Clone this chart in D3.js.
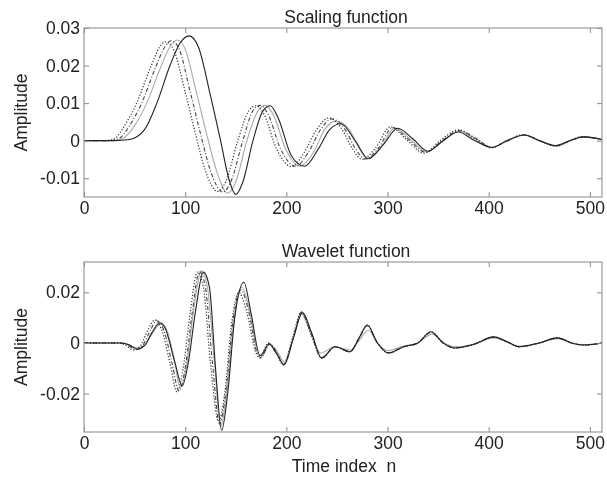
<!DOCTYPE html>
<html>
<head>
<meta charset="utf-8">
<script src="https://cdn.jsdelivr.net/npm/d3@7"></script>
<style>
  html, body { margin: 0; padding: 0; background: #fff; }
  svg { display: block; }
  text { font-family: "Liberation Sans", Arial, Helvetica, sans-serif; fill: #222; white-space: pre; }
</style>
</head>
<body>
<svg id="chart" width="607" height="481"></svg>
<script>
// ---------------- DATA ----------------
const xTicks = [0, 100, 200, 300, 400, 500];
const xTickLabels = ["0", "100", "200", "300", "400", "500"];
const scalingYTicks = [-0.01, 0, 0.01, 0.02, 0.03];
const scalingYTickLabels = ["-0.01", "0", "0.01", "0.02", "0.03"];
const waveletYTicks = [-0.02, 0, 0.02];
const waveletYTickLabels = ["-0.02", "0", "0.02"];

// Scaling function, four overlaid curves: [n, amplitude]
const scalingSolid = [[0,0],[30,0],[45,0.0003],[60,0.003],[72,0.01],[85,0.02],[95,0.026],[104,0.0279],[113,0.025],[125,0.012],[135,0.0],[143,-0.01],[150,-0.0143],[157,-0.011],[167,0.0],[177,0.008],[184,0.0093],[192,0.006],[205,-0.004],[218,-0.0068],[232,-0.002],[243,0.003],[254,0.0045],[268,0.0],[281,-0.0048],[296,-0.001],[310,0.0033],[325,0.0005],[340,-0.0028],[355,0.0],[370,0.0023],[385,0.0002],[403,-0.0018],[418,0.0],[435,0.0015],[450,0.0],[466,-0.0013],[480,0.0],[494,0.001],[512,0.0003]];
const scalingDotted = [[0,0],[20,0],[30,0.0005],[40,0.004],[52,0.01],[65,0.019],[75,0.025],[80,0.0263],[87,0.025],[100,0.013],[110,0.002],[120,-0.008],[132,-0.0135],[140,-0.011],[152,0.0],[163,0.008],[170,0.0093],[178,0.007],[190,-0.002],[205,-0.0069],[218,-0.003],[230,0.003],[242,0.0061],[255,0.003],[265,-0.002],[275,-0.005],[288,-0.002],[303,0.0037],[318,0.0005],[336,-0.0033],[352,0.0],[370,0.0029],[386,0.0005],[402,-0.0019],[418,0.0],[434,0.0016],[450,0.0],[466,-0.0015],[480,0.0],[493,0.0011],[512,0.0003]];
const scalingDashDot = [[0,0],[24,0],[34,0.0005],[45,0.004],[57,0.01],[70,0.019],[80,0.025],[86,0.0266],[93,0.025],[105,0.013],[115,0.002],[125,-0.008],[137,-0.0137],[145,-0.011],[157,0.0],[167,0.008],[174,0.0094],[182,0.007],[194,-0.002],[209,-0.0068],[222,-0.003],[234,0.003],[245,0.0058],[258,0.003],[268,-0.002],[278,-0.0049],[291,-0.002],[305,0.0035],[320,0.0005],[338,-0.0031],[354,0.0],[371,0.0027],[388,0.0005],[403,-0.0018],[419,0.0],[435,0.0015],[451,0.0],[467,-0.0014],[481,0.0],[494,0.001],[512,0.0003]];
const scalingGray = [[0,0],[28,0],[38,0.0005],[50,0.004],[62,0.01],[75,0.019],[85,0.025],[92,0.0268],[99,0.025],[111,0.013],[121,0.002],[131,-0.008],[142,-0.014],[150,-0.011],[161,0.0],[172,0.008],[179,0.0094],[187,0.007],[199,-0.002],[213,-0.0068],[227,-0.003],[238,0.003],[249,0.0052],[262,0.003],[272,-0.002],[280,-0.0048],[293,-0.002],[307,0.0034],[322,0.0005],[339,-0.003],[355,0.0],[371,0.0025],[388,0.0004],[403,-0.0018],[419,0.0],[435,0.0015],[451,0.0],[467,-0.0014],[481,0.0],[494,0.001],[512,0.0003]];

// Wavelet function, four overlaid curves: [n, amplitude]
const waveletSolid = [[0,0],[38,0],[45,-0.0008],[53,-0.0025],[60,-0.001],[67,0.004],[75,0.008],[80,0.006],[90,-0.008],[97,-0.017],[103,-0.008],[110,0.012],[118,0.028],[124,0.022],[130,-0.01],[136,-0.0345],[142,-0.02],[149,0.01],[158,0.024],[165,0.012],[174,-0.005],[183,-0.0005],[190,-0.004],[198,-0.0085],[207,0.002],[216,0.012],[225,0.004],[235,-0.006],[248,-0.0015],[263,-0.0035],[272,0.002],[280,0.0071],[290,0.0],[301,-0.004],[316,-0.0015],[330,0.0],[343,0.0044],[355,0.0],[366,-0.002],[385,-0.0006],[405,0.0024],[418,0.0005],[430,-0.0015],[450,0.0],[468,0.002],[482,0.0],[494,-0.0008],[512,0]];
const waveletDotted = [[0,0],[33,0],[41,-0.0008],[49,-0.0028],[56,-0.001],[63,0.005],[70,0.0091],[77,0.005],[85,-0.008],[92,-0.0194],[98,-0.01],[105,0.012],[112,0.028],[118,0.022],[125,-0.008],[133,-0.031],[139,-0.02],[146,0.008],[153,0.02],[161,0.012],[170,-0.004],[174,-0.006],[182,0.0],[190,-0.004],[197,-0.0087],[206,0.002],[215,0.0123],[224,0.004],[235,-0.006],[248,-0.0015],[263,-0.0035],[272,0.002],[280,0.0071],[290,0.0],[301,-0.004],[316,-0.0015],[330,0.0],[343,0.0044],[355,0.0],[366,-0.002],[385,-0.0006],[405,0.0024],[418,0.0005],[430,-0.0015],[450,0.0],[468,0.002],[482,0.0],[494,-0.0008],[512,0]];
const waveletDashDot = [[0,0],[35,0],[43,-0.0008],[51,-0.0027],[58,-0.001],[65,0.0045],[72,0.0088],[79,0.005],[87,-0.008],[94,-0.019],[100,-0.01],[107,0.012],[114,0.0282],[120,0.022],[127,-0.008],[134,-0.032],[140,-0.02],[147,0.008],[155,0.021],[163,0.012],[171,-0.004],[175,-0.0058],[183,-0.0002],[191,-0.004],[197,-0.0086],[207,0.002],[215,0.0122],[224,0.004],[235,-0.0058],[248,-0.0015],[263,-0.0034],[272,0.002],[280,0.0068],[290,0.0],[301,-0.0038],[316,-0.0015],[330,0.0],[343,0.0042],[355,0.0],[366,-0.002],[385,-0.0006],[405,0.0023],[418,0.0005],[430,-0.0015],[450,0.0],[468,0.0019],[482,0.0],[494,-0.0008],[512,0]];
const waveletGray = [[0,0],[36,0],[44,-0.0006],[52,-0.002],[60,-0.0008],[68,0.004],[76,0.0078],[82,0.005],[89,-0.006],[95,-0.0175],[101,-0.01],[108,0.012],[116,0.0285],[122,0.022],[129,-0.008],[135,-0.033],[141,-0.02],[148,0.008],[156,0.022],[164,0.012],[172,-0.004],[176,-0.005],[184,-0.0005],[192,-0.004],[198,-0.0075],[207,0.002],[215,0.0115],[224,0.004],[234,-0.004],[248,-0.0015],[263,-0.0028],[272,0.001],[281,0.005],[290,0.0],[300,-0.003],[316,-0.0012],[330,0.0],[344,0.0035],[356,0.0],[367,-0.0015],[385,-0.0005],[405,0.002],[418,0.0004],[430,-0.0012],[450,0.0],[468,0.0017],[482,0.0],[494,-0.0006],[512,0]];

const xDomain = [0, 512];
const scalingYDomain = [-0.015, 0.03];
const waveletYDomain = [-0.0352, 0.032];

// ---------------- DRAWING ----------------
const svg = d3.select("#chart");
const left = 84, right = 602;
const FS = 17.5;

// slight softening to resemble the scanned original
const defs = svg.append("defs");
defs.append("filter").attr("id", "soft").attr("x", "-5%").attr("y", "-5%").attr("width", "110%").attr("height", "110%")
  .append("feGaussianBlur").attr("stdDeviation", 0.55);
const root = svg.append("g").attr("filter", "url(#soft)");
root.append("rect").attr("width", 607).attr("height", 481).attr("fill", "#fff");

const styles = [
  { key: "gray",    stroke: "#aaa", width: 1.1, dash: null },
  { key: "dashDot", stroke: "#444", width: 1.1, dash: "4,2,1,2" },
  { key: "dotted",  stroke: "#333", width: 1.2, dash: "1.2,1.8" },
  { key: "solid",   stroke: "#222", width: 1.1, dash: null }
];

function panel(cfg) {
  const x = d3.scaleLinear().domain(xDomain).range([left, right]);
  const y = d3.scaleLinear().domain(cfg.yDomain).range([cfg.bottom, cfg.top]);
  const g = root.append("g");

  const line = d3.line().x(d => x(d[0])).y(d => y(d[1])).curve(d3.curveMonotoneX);
  const clipId = "clip" + cfg.id;
  defs.append("clipPath").attr("id", clipId).append("rect")
    .attr("x", left).attr("y", cfg.top).attr("width", right - left).attr("height", cfg.bottom - cfg.top);
  const cg = g.append("g").attr("clip-path", `url(#${clipId})`);
  styles.forEach(s => {
    cg.append("path").datum(cfg.series[s.key])
      .attr("d", line).attr("fill", "none")
      .attr("stroke", s.stroke).attr("stroke-width", s.width)
      .attr("stroke-dasharray", s.dash);
  });

  const fmtX = v => xTickLabels[xTicks.indexOf(v)];
  const fmtY = v => cfg.yLabels[cfg.yTicks.indexOf(v)];
  const axB = g.append("g").attr("transform", `translate(0,${cfg.bottom})`)
    .call(d3.axisBottom(x).tickValues(xTicks).tickFormat(fmtX).tickSizeInner(-5).tickSizeOuter(0).tickPadding(5));
  const axT = g.append("g").attr("transform", `translate(0,${cfg.top})`)
    .call(d3.axisTop(x).tickValues(xTicks).tickFormat("").tickSizeInner(-5).tickSizeOuter(0));
  const axL = g.append("g").attr("transform", `translate(${left},0)`)
    .call(d3.axisLeft(y).tickValues(cfg.yTicks).tickFormat(fmtY).tickSizeInner(-5).tickSizeOuter(0).tickPadding(4));
  const axR = g.append("g").attr("transform", `translate(${right},0)`)
    .call(d3.axisRight(y).tickValues(cfg.yTicks).tickFormat("").tickSizeInner(-5).tickSizeOuter(0));
  [axB, axT, axL, axR].forEach(a => {
    a.select(".domain").remove();
    a.selectAll(".tick line").attr("stroke", "#888");
    a.selectAll("text").attr("font-size", FS).attr("fill", "#222")
      .attr("font-family", "'Liberation Sans', Arial, sans-serif");
  });

  g.append("rect").attr("x", left).attr("y", cfg.top)
    .attr("width", right - left).attr("height", cfg.bottom - cfg.top)
    .attr("fill", "none").attr("stroke", "#999").attr("stroke-width", 1.2);

  g.append("text").attr("x", (left + right) / 2 + 3).attr("y", cfg.top - 5)
    .attr("text-anchor", "middle").attr("font-size", FS).text(cfg.title);

  g.append("text")
    .attr("transform", `translate(27,${(cfg.top + cfg.bottom) / 2}) rotate(-90)`)
    .attr("text-anchor", "middle").attr("font-size", FS).text("Amplitude");
}

panel({ id: "s", top: 28, bottom: 197, yDomain: scalingYDomain,
  yTicks: scalingYTicks, yLabels: scalingYTickLabels, title: "Scaling function",
  series: { solid: scalingSolid, dotted: scalingDotted, dashDot: scalingDashDot, gray: scalingGray } });

panel({ id: "w", top: 262, bottom: 432, yDomain: waveletYDomain,
  yTicks: waveletYTicks, yLabels: waveletYTickLabels, title: "Wavelet function",
  series: { solid: waveletSolid, dotted: waveletDotted, dashDot: waveletDashDot, gray: waveletGray } });

root.append("text").attr("x", 344).attr("y", 472).attr("text-anchor", "middle")
  .attr("font-size", FS).text("Time index  n");
</script>
</body>
</html>
